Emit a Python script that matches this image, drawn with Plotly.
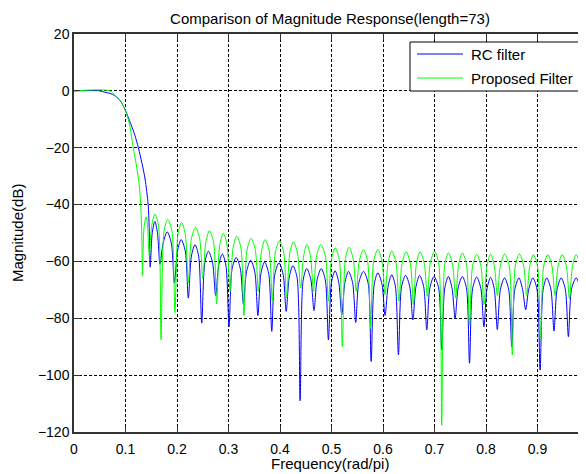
import plotly.graph_objects as go

# frequency axis in rad/pi, magnitude in dB
# RC filter: passband/transition, then per sidelobe: null, rising shoulder, peak, falling shoulder
rc_freq = [
    0, 0.05, 0.06, 0.07, 0.08, 0.09, 0.1, 0.11, 0.118, 0.125, 0.132, 0.138, 0.144, 0.146,
    0.148, 0.152, 0.157, 0.162,
    0.167, 0.173, 0.181, 0.189,
    0.195, 0.201, 0.208, 0.216,
    0.222, 0.228, 0.235, 0.242,
    0.248, 0.254, 0.261, 0.269,
    0.275, 0.281, 0.288, 0.295,
    0.301, 0.307, 0.315, 0.323,
    0.329, 0.335, 0.343, 0.351,
    0.357, 0.363, 0.370, 0.378,
    0.384, 0.390, 0.398, 0.406,
    0.412, 0.418, 0.425, 0.433,
    0.439, 0.445, 0.452, 0.460,
    0.466, 0.472, 0.480, 0.488,
    0.494, 0.500, 0.507, 0.514,
    0.520, 0.526, 0.533, 0.541,
    0.547, 0.553, 0.562, 0.571,
    0.577, 0.583, 0.590, 0.598,
    0.604, 0.610, 0.617, 0.624,
    0.630, 0.636, 0.644, 0.652,
    0.658, 0.664, 0.671, 0.679,
    0.685, 0.691, 0.699, 0.708,
    0.714, 0.720, 0.727, 0.734,
    0.740, 0.746, 0.754, 0.762,
    0.768, 0.774, 0.782, 0.790,
    0.796, 0.802, 0.809, 0.816,
    0.822, 0.828, 0.836, 0.844,
    0.850, 0.856, 0.864, 0.871,
    0.877, 0.883, 0.891, 0.899,
    0.905, 0.911, 0.918, 0.926,
    0.932, 0.938, 0.946, 0.954,
    0.960, 0.966, 0.975, 0.983,
    0.989, 0.995, 1.0,
]
rc_db = [
    0, 0, -0.5, -0.9, -1.8, -3.5, -7, -11.5, -15.5, -20, -25.5, -31, -40, -48,
    -62, -49.9, -45.9, -49.9,
    -61, -53.6, -49.6, -53.6,
    -67.6, -56.3, -52.3, -56.3,
    -72.9, -58.1, -54.1, -58.1,
    -81.7, -60.4, -56.4, -60.4,
    -72, -61.4, -57.4, -61.4,
    -83, -62.6, -58.6, -62.6,
    -75, -63.6, -59.6, -63.6,
    -79, -64.2, -60.2, -64.2,
    -84.6, -64.5, -60.5, -64.5,
    -77.6, -65.5, -61.5, -65.5,
    -109, -66.5, -62.5, -66.5,
    -77.3, -66.5, -62.5, -66.5,
    -87.6, -67.3, -63.3, -67.3,
    -78.8, -67.5, -63.5, -67.5,
    -81.5, -67.5, -63.5, -67.5,
    -95.2, -68, -64, -68,
    -79, -68.7, -64.7, -68.7,
    -92.9, -68.9, -64.9, -68.9,
    -80.6, -68.9, -64.9, -68.9,
    -84.1, -69.3, -65.3, -69.3,
    -91, -69.3, -65.3, -69.3,
    -80, -69.3, -65.3, -69.3,
    -95.8, -69.5, -65.5, -69.5,
    -83, -69.6, -65.6, -69.6,
    -84, -69.8, -65.8, -69.8,
    -90, -69.8, -65.8, -69.8,
    -77, -69.8, -65.8, -69.8,
    -98.2, -69.8, -65.8, -69.8,
    -84.5, -69.8, -65.8, -69.8,
    -86.5, -69.8, -65.8, -69.8,
    -91.7, -69.8, -67,
]

# Proposed filter
pf_freq = [
    0, 0.07, 0.08, 0.09, 0.1, 0.108, 0.115, 0.121, 0.126, 0.1295, 0.1315,
    0.133, 0.136, 0.140, 0.143,
    0.146, 0.151, 0.157, 0.164,
    0.169, 0.175, 0.182, 0.190,
    0.196, 0.202, 0.209, 0.216,
    0.222, 0.228, 0.236, 0.244,
    0.250, 0.256, 0.263, 0.271,
    0.277, 0.283, 0.290, 0.297,
    0.303, 0.309, 0.316, 0.324,
    0.330, 0.336, 0.344, 0.352,
    0.358, 0.364, 0.371, 0.379,
    0.385, 0.391, 0.399, 0.407,
    0.413, 0.419, 0.426, 0.434,
    0.440, 0.446, 0.452, 0.459,
    0.465, 0.471, 0.479, 0.488,
    0.494, 0.500, 0.507, 0.515,
    0.521, 0.527, 0.534, 0.542,
    0.548, 0.554, 0.562, 0.570,
    0.576, 0.582, 0.590, 0.598,
    0.604, 0.610, 0.617, 0.625,
    0.631, 0.637, 0.645, 0.653,
    0.659, 0.665, 0.672, 0.680,
    0.686, 0.692, 0.700, 0.708,
    0.714, 0.720, 0.727, 0.735,
    0.741, 0.747, 0.754, 0.762,
    0.768, 0.774, 0.782, 0.790,
    0.796, 0.802, 0.809, 0.816,
    0.822, 0.828, 0.836, 0.845,
    0.851, 0.857, 0.865, 0.873,
    0.879, 0.885, 0.892, 0.900,
    0.906, 0.912, 0.920, 0.928,
    0.934, 0.940, 0.948, 0.956,
    0.962, 0.968, 0.975, 0.983,
    0.989, 0.995, 1.0,
]
pf_db = [
    0, 0, -1.8, -3.5, -7, -12, -20, -26, -32, -40, -50,
    -65, -48, -44.3, -48,
    -58, -47.3, -43.3, -47.3,
    -87.5, -49.2, -45.2, -49.2,
    -78, -50.3, -46.3, -50.3,
    -67.6, -52, -48, -52,
    -66, -53.2, -49.2, -53.2,
    -75, -54.1, -50.1, -54.1,
    -70.5, -55.1, -51.1, -55.1,
    -79, -55.9, -51.9, -55.9,
    -70.5, -56.3, -52.3, -56.3,
    -74, -56.7, -52.7, -56.7,
    -72.9, -57.1, -53.1, -57.1,
    -69.4, -58, -54, -58,
    -70.5, -58, -54, -58,
    -74, -59.2, -55.2, -59.2,
    -90, -59, -55, -59,
    -70.5, -59.8, -55.8, -59.8,
    -83.5, -59.8, -55.8, -59.8,
    -71.7, -60.3, -56.3, -60.3,
    -74, -60.6, -56.6, -60.6,
    -75.2, -60.6, -56.6, -60.6,
    -72.3, -60.4, -56.4, -60.4,
    -117.6, -61, -57, -61,
    -72.9, -61, -57, -61,
    -82.3, -61.5, -57.5, -61.5,
    -75.2, -61.4, -57.4, -61.4,
    -72, -61.4, -57.4, -61.4,
    -92.9, -61.4, -57.4, -61.4,
    -72, -61.6, -57.6, -61.6,
    -87, -61.6, -57.6, -61.6,
    -72, -61.6, -57.6, -61.6,
    -73, -61.6, -57.6, -61.6,
    -75, -61.6, -58.5,
]

x_ticks = [0, 0.1, 0.2, 0.3, 0.4, 0.5, 0.6, 0.7, 0.8, 0.9]
x_tick_text = ["0", "0.1", "0.2", "0.3", "0.4", "0.5", "0.6", "0.7", "0.8", "0.9"]
y_ticks = [20, 0, -20, -40, -60, -80, -100, -120]

font = "Liberation Sans, Arial, Helvetica, sans-serif"

fig = go.Figure()
fig.add_trace(go.Scatter(x=rc_freq, y=rc_db, mode="lines", name="RC filter",
                         line=dict(color="#0000ff", width=1, shape="spline", smoothing=0.8)))
fig.add_trace(go.Scatter(x=pf_freq, y=pf_db, mode="lines", name="Proposed Filter",
                         line=dict(color="#00ff00", width=1, shape="spline", smoothing=0.8)))

# the page body has an 8px margin, so the figure is a bit smaller than the window
OFF = 8
W, H = 586 - OFF, 474 - OFF
L, T, B = 74 - OFF, 34 - OFF, 42
pw, ph = W - L, H - T - B


# helpers: window pixel -> paper coordinate
def px(xp):
    return (xp - OFF - L) / pw


def py(yp):
    return (H - B - (yp - OFF)) / ph


# hand-made legend box like MATLAB's
fig.add_shape(type="rect", xref="paper", yref="paper",
              x0=px(410), x1=px(584), y0=py(91), y1=py(42),
              line=dict(color="#000000", width=1), fillcolor="white", layer="above")
for yy, col, txt in [(54, "#0000ff", "RC filter"), (78, "#00ff00", "Proposed Filter")]:
    fig.add_shape(type="line", xref="paper", yref="paper",
                  x0=px(417), x1=px(463), y0=py(yy), y1=py(yy),
                  line=dict(color=col, width=1), layer="above")
    fig.add_annotation(xref="paper", yref="paper", x=px(469), y=py(yy), text=txt,
                       showarrow=False, xanchor="left", yanchor="middle",
                       font=dict(size=15, color="black", family=font))

fig.add_annotation(xref="paper", yref="paper", x=0.5, y=py(463), text="Frequency(rad/pi)",
                   showarrow=False, xanchor="center", yanchor="middle",
                   font=dict(size=15, color="black", family=font))
fig.add_annotation(xref="paper", yref="paper", x=px(17), y=0.5, text="Magnitude(dB)",
                   textangle=-90, showarrow=False, xanchor="center", yanchor="middle",
                   font=dict(size=15, color="black", family=font))

grid = dict(showgrid=True, gridcolor="#000000", gridwidth=1, griddash="3px,2px",
            zeroline=False, showline=True, linecolor="#333333", linewidth=1.5,
            ticks="inside", ticklen=6, tickcolor="#333333", tickwidth=1,
            tickfont=dict(size=14, color="black", family=font))

fig.update_layout(
    width=W, height=H, autosize=False,
    margin=dict(l=L, r=0, t=T, b=B),
    paper_bgcolor="white", plot_bgcolor="white",
    showlegend=False,
    title=dict(text="Comparison of Magnitude Response(length=73)", x=0.5, xref="paper",
               y=1 - (19 - OFF) / H, yanchor="middle",
               font=dict(size=15, color="black", family=font)),
    xaxis=dict(range=[0, pw / 515], tickvals=x_ticks, ticktext=x_tick_text,
               mirror="ticks", ticklabelstandoff=3, **grid),
    yaxis=dict(range=[-120, 20], tickvals=y_ticks, mirror=False, **grid),
)

fig.write_html("out.html")
